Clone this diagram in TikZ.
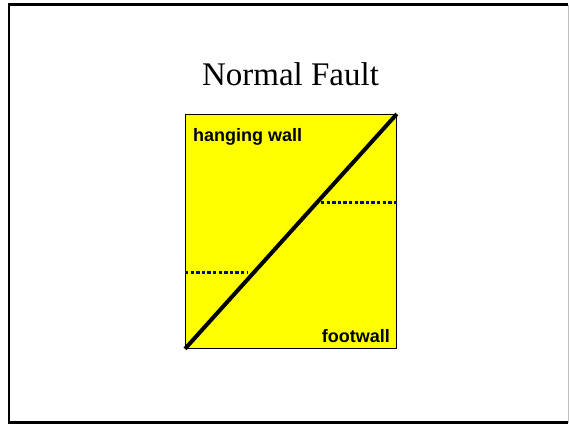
\documentclass[tikz,border=0pt]{standalone}
\usepackage{fontspec}
\setmainfont{Liberation Serif}
\newfontfamily\labelfont{Liberation Sans}
\usetikzlibrary{positioning}
\definecolor{FaultYellow}{RGB}{255,255,0}
\definecolor{MarkerBlue}{RGB}{0,0,160}
\tikzset{
  marker/.style={draw=MarkerBlue, line width=3.4pt, dash pattern=on 3.4pt off 2.2pt},
  walllabel/.style={font=\labelfont\fontsize{18}{22}\selectfont\bfseries, inner sep=0pt}
}

\begin{document}
\begin{tikzpicture}[x=1pt,y=-1pt]
        \useasboundingbox (0,0) rectangle (569,424);
        % slide frame
        \draw[line width=2.5pt] (568,422.5) -- (9.2,422.5) -- (9.2,4.5) -- (568,4.5);
        \draw[black!25, line width=1pt] (568,4.5) -- (568,422.5);
        \node[font=\fontsize{33}{40}\selectfont, anchor=base] (title) at (290.5,85) {Normal Fault};
        % block
        \node[draw, fill=FaultYellow, line width=0.8pt, minimum width=211pt, minimum height=234pt,
              inner sep=0pt, anchor=north west] (block) at (185,114) {};
        \coordinate (leftend) at (247,272.5);
        \coordinate (rightstart) at (321,202.5);
        \draw[marker] (block.west |- leftend) -- (leftend);
        \draw[marker] (rightstart) -- (block.east |- rightstart);
        \draw[line width=4pt] (block.south west) -- (block.north east);
        \node[walllabel, anchor=base west] (hanging) at (193,141) {hanging wall};
        \node[walllabel, anchor=base east] (footwall) at (390,342) {footwall};
      \end{tikzpicture}
\end{document}
